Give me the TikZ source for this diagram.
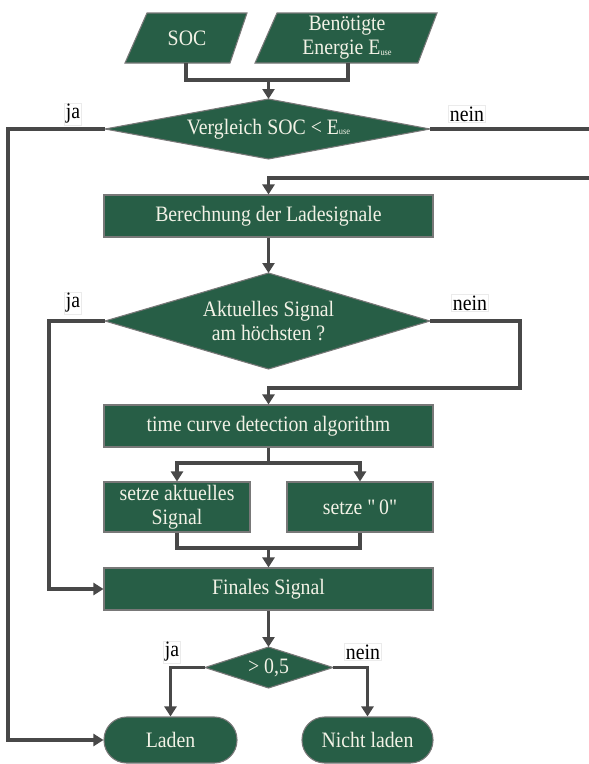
\documentclass[tikz,border=0pt]{standalone}
\usepackage{fontspec}
\setmainfont[FakeStretch=0.9]{Liberation Serif}
\newfontfamily\plainserif[FakeStretch=0.9, Ligatures=ResetAll]{Liberation Serif}
\usetikzlibrary{arrows.meta}

\definecolor{boxgreen}{RGB}{39,94,70}
\definecolor{boxedge}{RGB}{120,120,120}
\definecolor{linegray}{RGB}{72,72,72}
\definecolor{textcream}{RGB}{242,242,230}

\newcommand{\Euse}{E\raisebox{-0.3pt}{\fontsize{7}{7}\selectfont use}}
\newcommand{\straightquote}{{\plainserif"}}

\tikzset{
  shapefill/.style={fill=boxgreen, draw=boxedge, line width=0.8pt},
  procbox/.style={shapefill, rectangle, inner sep=2pt, align=center,
    text=textcream, font=\fontsize{16.5}{18}\selectfont},
  termbox/.style={procbox, rounded corners=17pt},
  shapetext/.style={inner sep=0pt, align=center, text=textcream,
    font=\fontsize{16.5}{18}\selectfont},
  conn/.style={draw=linegray, line width=2.3pt},
  arr/.style={conn, -{Triangle[width=9pt,length=7.5pt]}},
  yesno/.style={fill=white, draw=black!8, line width=0.4pt, inner sep=1pt,
    font=\fontsize{16.5}{18}\selectfont}
}

\begin{document}
\begin{tikzpicture}[x=0.75pt,y=-0.75pt]
\useasboundingbox (0,0) rectangle (589,764);

% ---- input parallelograms
\filldraw[shapefill] (147,13) -- (247,13) -- (230,63) -- (125,63) -- cycle;
\filldraw[shapefill] (277,13) -- (437,13) -- (418,63) -- (255,63) -- cycle;
\node[shapetext] (soc) at (187,38) {SOC};
\node[shapetext] (energy) at (347,38) {Benötigte\\Energie \Euse};
\coordinate (socB) at (186,63);
\coordinate (energyB) at (348,63);
\coordinate (mergeA) at (268.5,80);

% ---- decision diamonds
\filldraw[shapefill] (105,129) -- (268.5,99) -- (430,129) -- (268.5,159) -- cycle;
\node[shapetext] (d1) at (268.5,129) {Vergleich SOC < \Euse};
\coordinate (d1N) at (268.5,99);
\coordinate (d1W) at (105,129);
\coordinate (d1E) at (430,129);

\filldraw[shapefill] (105,321) -- (268.5,273) -- (430,321) -- (268.5,369) -- cycle;
\node[shapetext] (d2) at (268.5,321) {Aktuelles Signal\\am höchsten ?};
\coordinate (d2N) at (268.5,273);
\coordinate (d2W) at (105,321);
\coordinate (d2E) at (430,321);

\filldraw[shapefill] (205,667.5) -- (268.5,647) -- (333,667.5) -- (268.5,688) -- cycle;
\node[shapetext] (d3) at (268.5,667.5) {> 0,5};
\coordinate (d3N) at (268.5,647);
\coordinate (d3W) at (205,667.5);
\coordinate (d3E) at (333,667.5);

% ---- process boxes
\node[procbox, minimum width=246.75pt, minimum height=31.5pt] (calc) at (268.5,216) {Berechnung der Ladesignale};
\node[procbox, minimum width=246.75pt, minimum height=31.5pt] (tcd) at (268.5,426) {time curve detection algorithm};
\node[procbox, minimum width=109.5pt, minimum height=37.5pt] (setA) at (177,507) {setze aktuelles\\Signal};
\node[procbox, minimum width=109.5pt, minimum height=37.5pt] (setZ) at (360,507) {setze \straightquote\,0\straightquote};
\node[procbox, minimum width=246.75pt, minimum height=31.5pt] (final) at (268.5,589) {Finales Signal};

% ---- terminals
\node[termbox, minimum width=99.75pt, minimum height=34.5pt] (laden) at (170.5,740) {Laden};
\node[termbox, minimum width=98.25pt, minimum height=34.5pt] (nicht) at (367.5,740) {Nicht laden};

% ---- connectors: inputs to first decision
\draw[conn] (socB) -- (socB |- mergeA) -- (energyB |- mergeA) -- (energyB);
\draw[arr] (mergeA) -- (d1N);

% first decision
\coordinate (leftRail) at (8,129);
\draw[arr] (d1W) -- (leftRail) -- (leftRail |- laden.west) -- (laden.west);
\coordinate (rightEdge) at (589,129);
\draw[conn] (d1E) -- (rightEdge);
\coordinate (reentry) at (589,178);
\draw[arr] (reentry) -- (calc.north |- reentry) -- (calc.north);

\draw[arr] (calc.south) -- (d2N);

% second decision
\coordinate (midRail) at (49,321);
\draw[arr] (d2W) -- (midRail) -- (midRail |- final.west) -- (final.west);
\coordinate (rightRail) at (520,321);
\coordinate (rightDown) at (520,388);
\draw[arr] (d2E) -- (rightRail) -- (rightDown) -- (tcd.north |- rightDown) -- (tcd.north);

% split and join around the two setter boxes
\coordinate (split) at (268.5,463);
\draw[conn] (tcd.south) -- (split);
\draw[arr] (split) -- (setA.north |- split) -- (setA.north);
\draw[arr] (split) -- (setZ.north |- split) -- (setZ.north);
\coordinate (join) at (268.5,548);
\draw[conn] (setA.south) -- (setA.south |- join) -- (setZ.south |- join) -- (setZ.south);
\draw[arr] (join) -- (final.north);

% final decision
\draw[arr] (final.south) -- (d3N);
\draw[arr] (d3W) -- (laden.north |- d3W) -- (laden.north);
\draw[arr] (d3E) -- (nicht.north |- d3E) -- (nicht.north);

% ---- branch labels
\node[yesno] (ja1) at (73,114) {ja};
\node[yesno] (nein1) at (467,114) {nein};
\node[yesno] (ja2) at (73,303) {ja};
\node[yesno] (nein2) at (470,303) {nein};
\node[yesno] (ja3) at (172,652) {ja};
\node[yesno] (nein3) at (363,652) {nein};
\end{tikzpicture}
\end{document}
